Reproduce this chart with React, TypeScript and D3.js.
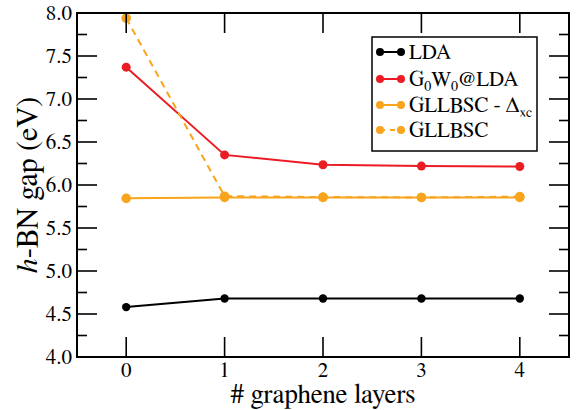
import React from "react";
import * as d3 from "d3";

const layers = [0, 1, 2, 3, 4];
const lda = [4.58, 4.68, 4.68, 4.68, 4.68];
const g0w0 = [7.37, 6.35, 6.235, 6.22, 6.215];
const gllbscDxc = [5.845, 5.855, 5.855, 5.855, 5.855];
const gllbsc = [7.94, 5.87, 5.86, 5.855, 5.865];
const xTicks = [0, 1, 2, 3, 4];
const yTicks = [4.0, 4.5, 5.0, 5.5, 6.0, 6.5, 7.0, 7.5, 8.0];
const yMinor = [4.25, 4.75, 5.25, 5.75, 6.25, 6.75, 7.25, 7.75];

const RED = "#ec1c24";
const ORANGE = "#f8a51d";

const W = 578, H = 410;
const L = 77, R = 569, T = 13, B = 357;
const FONT = "FreeSerif, 'Liberation Serif', serif";
const ts = { fontFamily: FONT };

export default function App() {
  const x = d3.scaleLinear().domain([-0.5, 4.5]).range([L, R]);
  const y = d3.scaleLinear().domain([4, 8]).range([B, T]);
  const line = d3.line<number>().x((_, i) => x(layers[i])).y((d) => y(d));

  const series = [
    { data: lda, color: "#000", dash: undefined, r: 4.2 },
    { data: g0w0, color: RED, dash: undefined, r: 4.5 },
    { data: gllbscDxc, color: ORANGE, dash: undefined, r: 4.8 },
    { data: gllbsc, color: ORANGE, dash: "7,5", r: 4.8 },
  ];

  const legendRows = [
    { y: 52, color: "#000", dash: undefined, label: <tspan>LDA</tspan> },
    {
      y: 79, color: RED, dash: undefined,
      label: (
        <>
          <tspan>G</tspan>
          <tspan fontSize={14} dy={5}>0</tspan>
          <tspan dy={-5}>W</tspan>
          <tspan fontSize={14} dy={5}>0</tspan>
          <tspan dy={-5}>@LDA</tspan>
        </>
      ),
    },
    {
      y: 105, color: ORANGE, dash: undefined,
      label: (
        <>
          <tspan>GLLBSC - Δ</tspan>
          <tspan fontSize={14} dy={5}>xc</tspan>
        </>
      ),
    },
    { y: 130, color: ORANGE, dash: "5,5", label: <tspan>GLLBSC</tspan> },
  ];

  return (
    <svg width={W} height={H} style={{ position: "absolute", left: 0, top: 0, fontFamily: FONT }}>
      <rect x={0} y={0} width={W} height={H} fill="#fff" />
      {series.map((s, k) => (
        <g key={k}>
          <path d={line(s.data) || ""} fill="none" stroke={s.color} strokeWidth={2} strokeDasharray={s.dash} />
          {s.data.map((v, i) => (
            <circle key={i} cx={x(layers[i])} cy={y(v)} r={s.r} fill={s.color} />
          ))}
        </g>
      ))}
      <rect x={L} y={T} width={R - L} height={B - T} fill="none" stroke="#000" strokeWidth={2} />
      {xTicks.map((t) => (
        <g key={"x" + t}>
          <line x1={x(t)} x2={x(t)} y1={B} y2={B - 20} stroke="#000" strokeWidth={1.6} />
          <line x1={x(t)} x2={x(t)} y1={T} y2={T + 20} stroke="#000" strokeWidth={1.6} />
          <text x={x(t)} y={377} textAnchor="middle" fontSize={21} style={ts}>{t}</text>
        </g>
      ))}
      {yTicks.map((t) => (
        <g key={"y" + t}>
          <line x1={L} x2={L + 20} y1={y(t)} y2={y(t)} stroke="#000" strokeWidth={1.6} />
          <line x1={R} x2={R - 20} y1={y(t)} y2={y(t)} stroke="#000" strokeWidth={1.6} />
          <text x={72} y={y(t) + 7} textAnchor="end" fontSize={21} style={ts}>{t.toFixed(1)}</text>
        </g>
      ))}
      {yMinor.map((t) => (
        <g key={"ym" + t}>
          <line x1={L} x2={L + 10} y1={y(t)} y2={y(t)} stroke="#000" strokeWidth={1.6} />
          <line x1={R} x2={R - 10} y1={y(t)} y2={y(t)} stroke="#000" strokeWidth={1.6} />
        </g>
      ))}
      <text x={(L + R) / 2} y={403} textAnchor="middle" fontSize={27} style={ts}># graphene layers</text>
      <text transform={`translate(37,${(T + B) / 2}) rotate(-90)`} textAnchor="middle" fontSize={30} style={ts}>
        <tspan fontStyle="italic">h</tspan>
        <tspan>-BN gap (eV)</tspan>
      </text>
      <rect x={372} y={37} width={165} height={114} fill="#fff" stroke="#000" strokeWidth={1.5} />
      {legendRows.map((r, i) => (
        <g key={"lg" + i}>
          <line x1={380} x2={401} y1={r.y} y2={r.y} stroke={r.color} strokeWidth={2} strokeDasharray={r.dash} />
          <circle cx={380} cy={r.y} r={4} fill={r.color} />
          <circle cx={401} cy={r.y} r={4} fill={r.color} />
          <text x={409} y={r.y + 7} fontSize={21} style={ts}>{r.label}</text>
        </g>
      ))}
    </svg>
  );
}
